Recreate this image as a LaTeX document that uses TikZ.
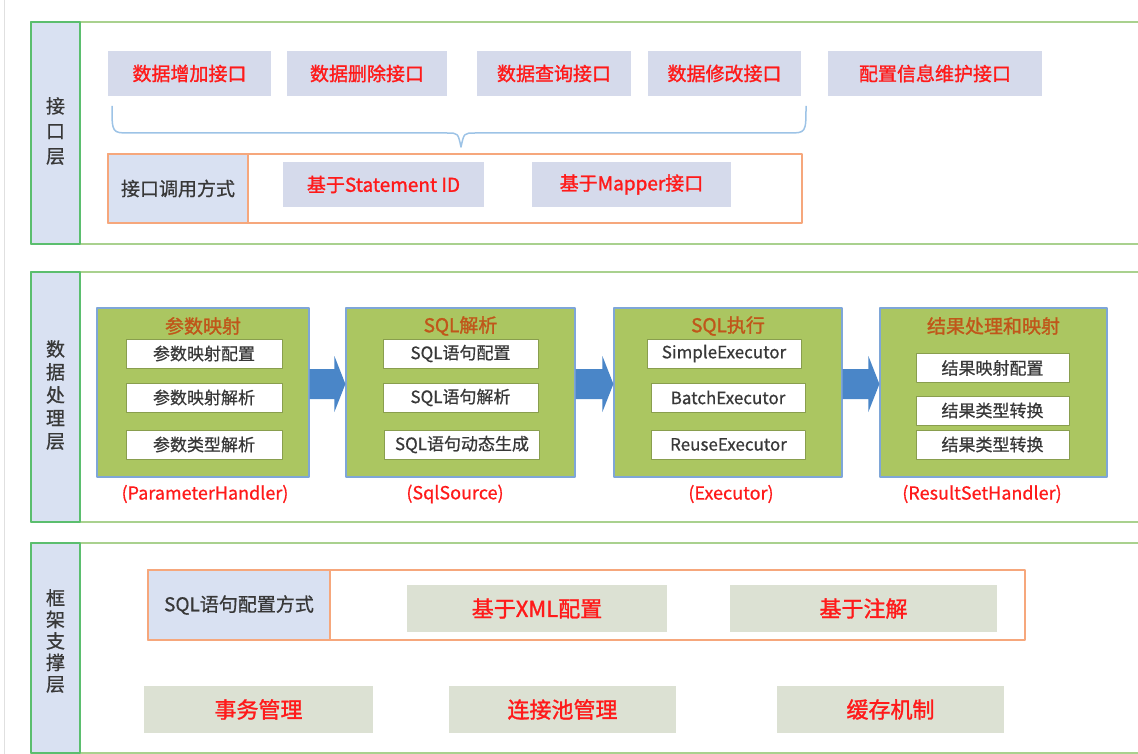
\documentclass[tikz,border=0pt]{standalone}
\usepackage{fontspec}
\setmainfont{Noto Sans CJK SC}
\newfontfamily\medfont{Noto Sans CJK SC}[FakeBold=1.4]
\newfontfamily\semifont{Noto Sans CJK SC}[FakeBold=0.7]
\usetikzlibrary{calc}
\definecolor{laygreen}{HTML}{A9D18E}
\definecolor{colgreen}{HTML}{5BBE6E}
\definecolor{colfill}{HTML}{D9E1F2}
\definecolor{ifill}{HTML}{D5DAEB}
\definecolor{orng}{HTML}{F6A77C}
\definecolor{txtred}{HTML}{FF1A1A}
\definecolor{txtgray}{HTML}{383838}
\definecolor{boxgreen}{HTML}{ABC661}
\definecolor{boxblue}{HTML}{7EA6D8}
\definecolor{ttlbrown}{HTML}{C0561A}
\definecolor{flowblue}{HTML}{4A86C8}
\definecolor{sfill}{HTML}{DCE1D3}
\definecolor{bracec}{HTML}{9DC3E6}
\tikzset{>=latex}
\tikzset{
  layer/.style={draw=laygreen, line width=2pt},
  colbox/.style={draw=colgreen, fill=colfill, line width=2pt},
  collab/.style={align=center, text=txtgray, font=\semifont\fontsize{19}{#1}\selectfont},
  ifbox/.style={fill=ifill, inner sep=0pt, minimum height=45pt, text=txtred, font=\medfont\fontsize{19}{22}\selectfont},
  callbox/.style={draw=orng, line width=1.5pt, inner sep=0pt, minimum height=69pt},
  cellbox/.style={draw=orng, fill=colfill, line width=1.5pt, inner sep=0pt, text=txtgray, font=\semifont\fontsize{19}{22}\selectfont},
  stage/.style={draw=boxblue, fill=boxgreen, line width=1.2pt, inner sep=0pt, minimum height=169pt},
  stagettl/.style={text=ttlbrown, font=\medfont\fontsize{19}{22}\selectfont},
  inbox/.style={draw=boxgreen!80!black, fill=white, line width=0.8pt, inner sep=0pt, minimum height=29pt, text=txtgray, font=\semifont\fontsize{17}{20}\selectfont},
  note/.style={text=txtred, font=\semifont\fontsize{18}{20}\selectfont},
  sbox/.style={fill=sfill, inner sep=0pt, minimum height=47pt, text=txtred, font=\medfont\fontsize{22}{24}\selectfont},
  brace/.style={draw=bracec, line width=1.5pt}
}

\begin{document}
\begin{tikzpicture}[x=1pt, y=-1pt, line join=round]
    \useasboundingbox (0,0) rectangle (1138,754);
    \draw[black!12, line width=1pt] (4,0) -- (4,754);

    % interface layer
    \draw[layer] (31,22) rectangle (1150,244);
    \draw[colbox] (31,22) rectangle (80,244);
    \node[collab=25] (l1) at (55.5,131) {接\\口\\层};
    \node[ifbox, minimum width=163pt] (add) at (189.5,73.5) {数据增加接口};
    \node[ifbox, minimum width=160pt] (del) at (367,73.5) {数据删除接口};
    \node[ifbox, minimum width=154pt] (qry) at (554,73.5) {数据查询接口};
    \node[ifbox, minimum width=153pt] (upd) at (724.5,73.5) {数据修改接口};
    \node[ifbox, minimum width=214pt] (cfg) at (935,73.5) {配置信息维护接口};
    \draw[brace] (112,106) .. controls (112,133) .. (130,133) -- (447,133)
        .. controls (458,133) .. (461,147) .. controls (464,133) .. (475,133)
        -- (788,133) .. controls (806,133) .. (806,106);
    \node[callbox, minimum width=694pt] (call) at (455,188.5) {};
    \node[cellbox, minimum width=140pt, minimum height=69pt, anchor=west] (callway) at (call.west) {接口调用方式};
    \node[ifbox, minimum width=201pt] (stmt) at (383.5,184.5) {基于Statement ID};
    \node[ifbox, minimum width=199pt] (mapper) at (631.5,184.5) {基于Mapper接口};

    % data layer
    \draw[layer] (31,272) rectangle (1150,522);
    \draw[colbox] (31,272) rectangle (80,522);
    \node[collab=23] (l2) at (55.5,395) {数\\据\\处\\理\\层};
    \node[stage, minimum width=212pt] (s1) at (203,392.5) {};
    \node[stage, minimum width=229pt] (s2) at (460.5,392.5) {};
    \node[stage, minimum width=228pt] (s3) at (728,392.5) {};
    \node[stage, minimum width=227pt] (s4) at (993.5,392.5) {};
    \node[stagettl] (t1) at (203,326) {参数映射};
    \node[stagettl] (t2) at (460.5,326) {SQL解析};
    \node[stagettl] (t3) at (728,326) {SQL执行};
    \node[stagettl] (t4) at (993.5,326) {结果处理和映射};
    \foreach \t/\y [count=\i] in {参数映射配置/353.5, 参数映射解析/397.5, 参数类型解析/444.5}
      \node[inbox, minimum width=156pt] (p\i) at (204,\y) {\t};
    \foreach \t/\x/\y [count=\i] in {SQL语句配置/460.5/353.5, SQL语句解析/460.5/397.5, SQL语句动态生成/462/444.5}
      \node[inbox, minimum width=155pt] (q\i) at (\x,\y) {\t};
    \foreach \t/\x/\y [count=\i] in {SimpleExecutor/724/353.5, BatchExecutor/728/397.5, ReuseExecutor/728.5/444.5}
      \node[inbox, minimum width=154pt] (e\i) at (\x,\y) {\t};
    \foreach \t/\y [count=\i] in {结果映射配置/368, 结果类型转换/410.5, 结果类型转换/444.5}
      \node[inbox, minimum width=153pt] (r\i) at (992.5,\y) {\t};
    \node[note] (n1) at (205,494) {(ParameterHandler)};
    \node[note] (n2) at (455,494) {(SqlSource)};
    \node[note] (n3) at (731,494) {(Executor)};
    \node[note] (n4) at (982,494) {(ResultSetHandler)};
    \foreach \a/\b in {s1/s2, s2/s3, s3/s4}
    {
    \coordinate (A) at ([yshift=8.5pt]\a.east);
    \coordinate (B) at ([yshift=8.5pt]\b.west);
    \fill[flowblue] ($(A)+(0,-15)$) -- ($(B)+(-11,-15)$) -- ($(B)+(-11,-28)$) -- (B)
        -- ($(B)+(-11,28)$) -- ($(B)+(-11,15)$) -- ($(A)+(0,15)$) -- cycle;
    }

    % support layer
    \draw[layer] (31,543) rectangle (1150,753);
    \draw[colbox] (31,543) rectangle (80,753);
    \node[collab=21.5] (l3) at (55.5,641) {框\\架\\支\\撑\\层};
    \node[callbox, minimum width=877pt, minimum height=70pt] (sqlway) at (586.5,605) {};
    \node[cellbox, minimum width=182pt, minimum height=70pt, anchor=west] (sqlcell) at (sqlway.west) {SQL语句配置方式};
    \node[sbox, minimum width=260pt] (xml) at (537,608.5) {基于XML配置};
    \node[sbox, minimum width=267pt] (anno) at (863.5,608.5) {基于注解};
    \node[sbox, minimum width=229pt] (tx) at (258.5,709.5) {事务管理};
    \node[sbox, minimum width=227pt] (pool) at (562.5,709.5) {连接池管理};
    \node[sbox, minimum width=227pt] (cache) at (890.5,709.5) {缓存机制};
\end{tikzpicture}
\end{document}
